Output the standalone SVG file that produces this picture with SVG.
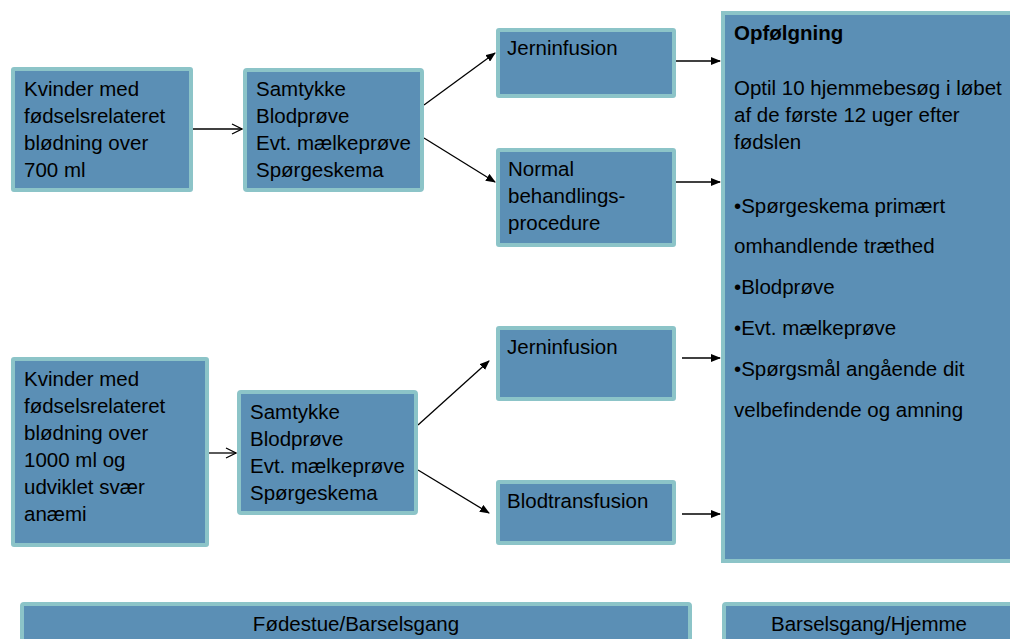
<svg xmlns="http://www.w3.org/2000/svg" width="1010" height="639" viewBox="0 0 1010 639">
<style>
.box{fill:#5B8FB5;stroke:#8CC4C8;stroke-width:4}
.t{font-family:"Liberation Sans",Arial,sans-serif;font-size:20.5px;fill:#000}
.b{font-weight:bold}
.c{text-anchor:middle}
.ln{stroke:#000;stroke-width:1.3;fill:none}
</style>
<defs>
<marker id="fa" markerWidth="10" markerHeight="8" refX="9" refY="4" orient="auto" markerUnits="userSpaceOnUse">
<path d="M0,0 L10,4 L0,8 Z" fill="#000"/>
</marker>
<marker id="oa" markerWidth="12" markerHeight="12" refX="11" refY="6" orient="auto" markerUnits="userSpaceOnUse">
<path d="M1,1 L11,6 L1,11" fill="none" stroke="#000" stroke-width="1.3"/>
</marker>
</defs>
<rect width="1010" height="639" fill="#fff"/>

<g id="connectors">
<line class="ln" x1="192" y1="129" x2="242" y2="129" marker-end="url(#oa)"/>
<line class="ln" x1="424" y1="105" x2="495" y2="53" marker-end="url(#fa)"/>
<line class="ln" x1="424" y1="138" x2="495" y2="182" marker-end="url(#fa)"/>
<line class="ln" x1="676" y1="61" x2="720" y2="61" marker-end="url(#fa)"/>
<line class="ln" x1="676" y1="182" x2="720" y2="182" marker-end="url(#fa)"/>
<line class="ln" x1="208" y1="453" x2="236" y2="453" marker-end="url(#oa)"/>
<line class="ln" x1="418" y1="425" x2="489" y2="361" marker-end="url(#fa)"/>
<line class="ln" x1="418" y1="470" x2="489" y2="513" marker-end="url(#fa)"/>
<line class="ln" x1="682" y1="358" x2="720" y2="358" marker-end="url(#fa)"/>
<line class="ln" x1="682" y1="514" x2="720" y2="514" marker-end="url(#fa)"/>
</g>

<g id="kvinder700">
<rect class="box" x="13" y="69" width="178" height="121" rx="1"/>
<text class="t" x="24" y="96">Kvinder med</text>
<text class="t" x="24" y="123">fødselsrelateret</text>
<text class="t" x="24" y="150">blødning over</text>
<text class="t" x="24" y="177">700 ml</text>
</g>

<g id="samtykke1">
<rect class="box" x="245" y="70" width="177" height="120" rx="2"/>
<text class="t" x="256" y="96">Samtykke</text>
<text class="t" x="256" y="123">Blodprøve</text>
<text class="t" x="256" y="150">Evt. mælkeprøve</text>
<text class="t" x="256" y="177">Spørgeskema</text>
</g>

<g id="jern1">
<rect class="box" x="498" y="30" width="176" height="66" rx="1"/>
<text class="t" x="507" y="55">Jerninfusion</text>
</g>

<g id="normal">
<rect class="box" x="498" y="150" width="176" height="95" rx="1"/>
<text class="t" x="508" y="176">Normal</text>
<text class="t" x="508" y="203">behandlings-</text>
<text class="t" x="508" y="230">procedure</text>
</g>

<g id="opfoelgning">
<rect class="box" x="723" y="13" width="300" height="548"/>
<text class="t b" x="734" y="40">Opfølgning</text>
<text class="t" x="734" y="95">Optil 10 hjemmebesøg i løbet</text>
<text class="t" x="734" y="122">af de første 12 uger efter</text>
<text class="t" x="734" y="149">fødslen</text>
<text class="t" x="734" y="213">•Spørgeskema primært</text>
<text class="t" x="734" y="253">omhandlende træthed</text>
<text class="t" x="734" y="294">•Blodprøve</text>
<text class="t" x="734" y="335">•Evt. mælkeprøve</text>
<text class="t" x="734" y="376">•Spørgsmål angående dit</text>
<text class="t" x="734" y="417">velbefindende og amning</text>
</g>

<g id="kvinder1000">
<rect class="box" x="13" y="359" width="194" height="186" rx="1"/>
<text class="t" x="24" y="386">Kvinder med</text>
<text class="t" x="24" y="413">fødselsrelateret</text>
<text class="t" x="24" y="440">blødning over</text>
<text class="t" x="24" y="467">1000 ml og</text>
<text class="t" x="24" y="494">udviklet svær</text>
<text class="t" x="24" y="521">anæmi</text>
</g>

<g id="samtykke2">
<rect class="box" x="239" y="392" width="177" height="121" rx="2"/>
<text class="t" x="250" y="419">Samtykke</text>
<text class="t" x="250" y="446">Blodprøve</text>
<text class="t" x="250" y="473">Evt. mælkeprøve</text>
<text class="t" x="250" y="500">Spørgeskema</text>
</g>

<g id="jern2">
<rect class="box" x="498" y="328" width="176" height="71" rx="1"/>
<text class="t" x="507" y="354">Jerninfusion</text>
</g>

<g id="blodtransfusion">
<rect class="box" x="498" y="482" width="176" height="61" rx="1"/>
<text class="t" x="507" y="508">Blodtransfusion</text>
</g>

<g id="fodestue">
<rect class="box" x="22" y="604" width="668" height="50" rx="2"/>
<text class="t c" x="356" y="631">Fødestue/Barselsgang</text>
</g>

<g id="barselsgang">
<rect class="box" x="724" y="604" width="300" height="50" rx="2"/>
<text class="t c" x="869" y="631">Barselsgang/Hjemme</text>
</g>
</svg>
